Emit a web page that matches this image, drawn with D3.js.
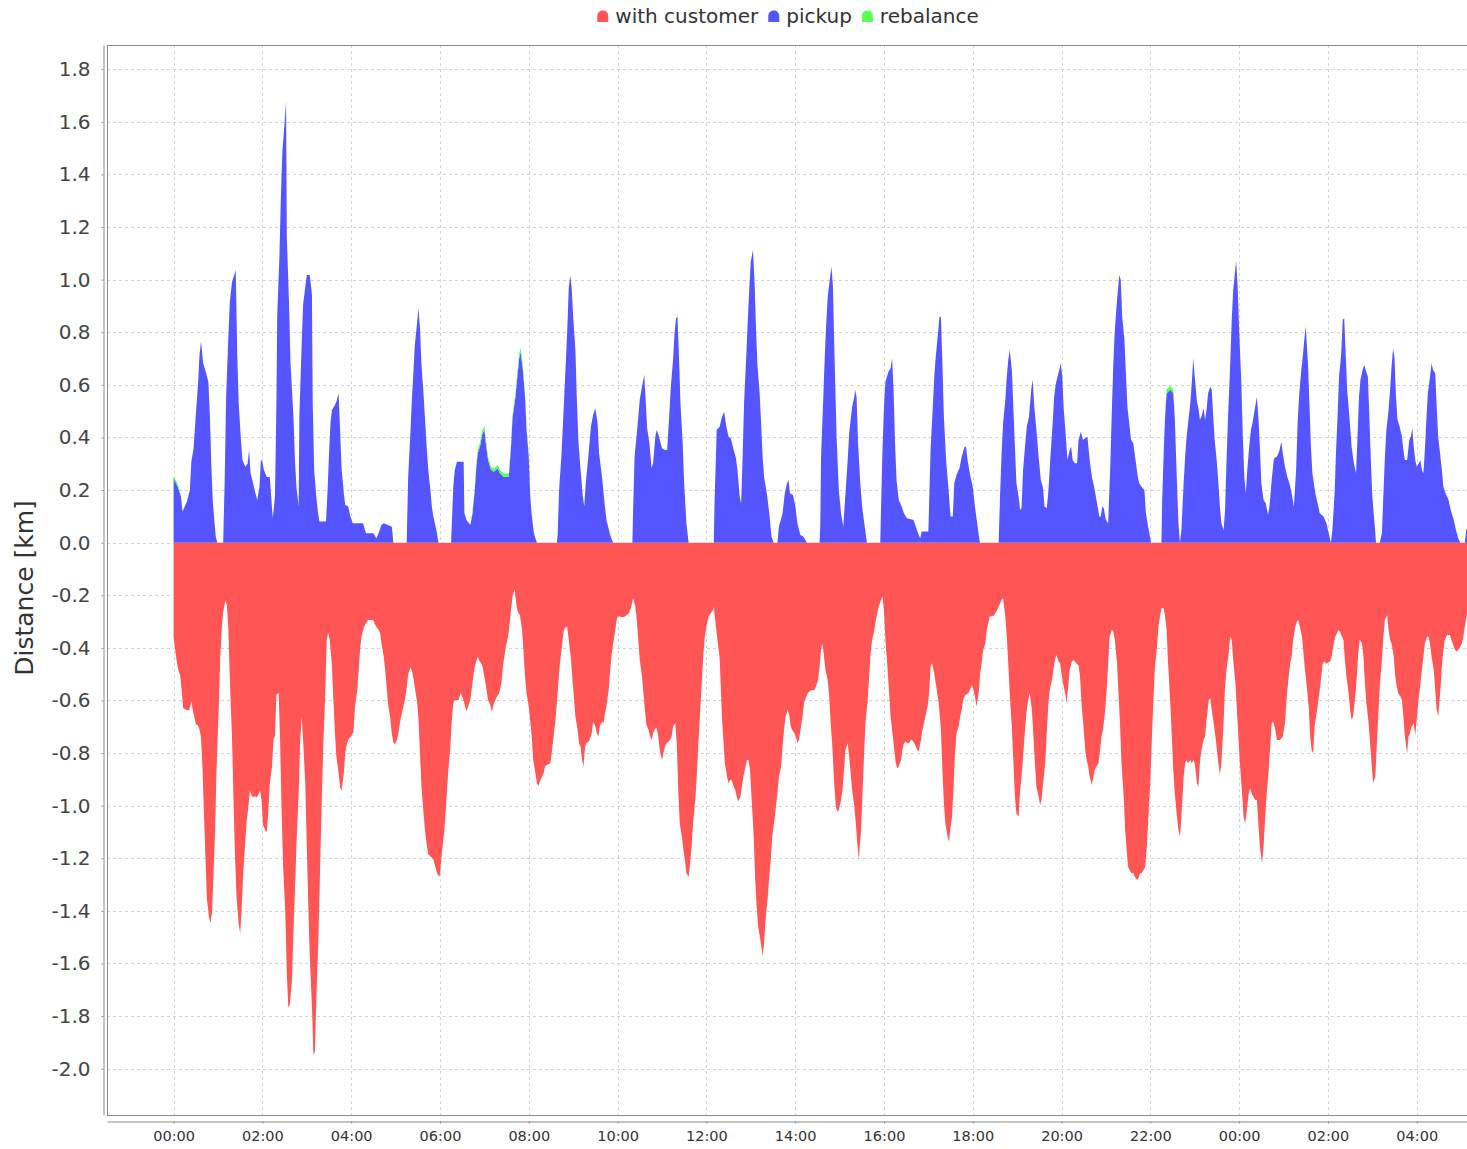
<!DOCTYPE html>
<html>
<head>
<meta charset="utf-8">
<script src="https://cdnjs.cloudflare.com/ajax/libs/d3/7.8.5/d3.min.js"></script>
<style>
  body { margin: 0; background: #fff; }
  text { font-family: "DejaVu Sans", sans-serif; }
</style>
</head>
<body>
<script>
// times are minutes after 00:00 of the first day, values are km
const seriesNames = ["with customer", "pickup", "rebalance"];
const seriesColors = ["#ff5555", "#5555ff", "#55ff55"];

// pickup (drawn above zero)
const pickup = [[0,.245],[6,.21],[10,.175],[12,.118],[18,.156],[22,.2],[24,.308],[27,.359],[30,.486],[33,.6],[35,.714],[37,.764],[40,.682],[44,.644],[47,.612],[49,.486],[51,.295],[53,.156],[55,.086],[57,.023],[59,0],
[67,0],[69,.232],[71,.555],[74,.783],[76,.916],[79,.992],[82,1.018],[84,1.037],[86,.72],[88,.53],[91,.39],[93,.314],[97,.289],[100,.3],[102,.352],[104,.264],[107,.232],[110,.194],[113,.162],[116,.21],[118,.314],[120,.308],[122,.276],[126,.25],[130,.25],[134,.093],[137,.175],
[139,.543],[140,.86],[143,1.087],[145,1.316],[147,1.487],[150,1.595],[152,1.677],[153,1.163],[156,.91],[158,.682],[162,.479],[164,.314],[166,.213],[169,.137],
[170,.486],[173,.745],[175,.904],[178,.973],[180,1.018],[184,1.018],[187,.942],[188,.536],[190,.276],[193,.169],[195,.118],[197,.08],[206,.08],
[208,.194],[210,.333],[212,.454],[214,.505],[217,.518],[220,.536],[223,.568],[225,.428],[227,.283],[230,.188],[232,.143],[236,.137],[239,.099],[242,.074],[256,.074],[260,.036],[270,.036],[274,.017],[277,.036],[281,.068],[284,.074],[295,.06],[297,0],
[315,0],[317,.25],[320,.416],[322,.543],[324,.644],[326,.752],[329,.834],[331,.891],[333,.814],[335,.676],[338,.555],[340,.46],[342,.365],[344,.283],[347,.2],[349,.137],[351,.099],[355,.05],[358,0],
[375,0],[376,.074],[378,.213],[380,.276],[383,.308],[392,.308],[393,.112],[396,.086],[401,.067],[404,.112],[407,.2],[409,.283],[411,.34],[414,.365],[417,.41],[420,.429],[422,.378],[425,.314],[429,.276],[433,.27],[438,.283],[441,.264],[446,.251],[453,.251],[456,.365],[458,.473],[462,.555],[465,.644],[467,.701],[469,.725],[472,.657],[475,.555],[477,.429],[480,.327],[482,.175],[484,.105],[487,.035],[491,0],
[518,0],[519,.03],[521,.2],[524,.327],[526,.441],[528,.562],[530,.682],[532,.809],[534,.967],[536,1.018],[538,.967],[540,.859],[543,.733],[545,.543],[547,.39],[550,.276],[553,.175],[555,.137],[557,.226],[560,.314],[562,.378],[564,.441],[567,.486],[570,.511],[573,.454],[575,.34],[579,.251],[582,.162],[585,.086],[590,.029],[594,0],
[620,0],[621,.124],[623,.327],[626,.416],[628,.479],[630,.543],[633,.593],[636,.638],[638,.543],[640,.435],[643,.378],[646,.283],[648,.302],[651,.403],[653,.429],[656,.403],[660,.359],[664,.352],[667,.352],[670,.492],[672,.593],[675,.695],[677,.796],[679,.853],[681,.859],[683,.707],[685,.53],[688,.378],[690,.226],[693,.074],[696,0],
[730,0],[731,.15],[734,.429],[738,.441],[741,.479],[744,.498],[747,.441],[750,.403],[753,.397],[757,.352],[760,.321],[762,.276],[765,.175],[767,.15],[769,.327],[771,.536],[774,.714],[776,.847],[778,.967],[780,1.069],[783,1.113],[785,1.0],[787,.822],[789,.676],[792,.568],[794,.454],[796,.327],[798,.251],[802,.181],[805,.112],[808,.023],[811,0],
[816,0],[818,.061],[820,.08],[823,.112],[826,.188],[829,.226],[831,.238],[833,.188],[837,.181],[840,.143],[843,.074],[847,.029],[851,.023],[856,0],
[873,0],[874,.074],[875,.327],[878,.549],[880,.707],[882,.834],[884,.935],[887,1.005],[889,1.05],[891,.98],[893,.733],[896,.403],[899,.2],[902,.112],[905,.061],[908,.188],[911,.314],[913,.416],[915,.467],[917,.517],[920,.555],[921,.581],[923,.555],[925,.378],[928,.226],[931,.124],[934,.061],[937,0],
[955,0],[956,.124],[958,.352],[960,.517],[962,.612],[966,.65],[969,.663],[971,.701],[973,.581],[975,.378],[977,.238],[980,.162],[984,.137],[987,.112],[991,.093],[1000,.086],[1003,.061],[1007,.029],[1009,.017],[1011,.042],[1020,.042],[1023,.352],[1026,.517],[1028,.631],[1030,.707],[1033,.796],[1035,.859],[1037,.857],[1039,.682],[1041,.479],[1044,.314],[1047,.213],[1050,.099],[1053,.099],[1055,.226],[1058,.257],[1062,.283],[1065,.327],[1069,.365],[1071,.365],[1073,.314],[1076,.264],[1080,.213],[1083,.137],[1086,.074],[1089,.01],[1090,0],
[1115,0],[1117,.188],[1119,.34],[1121,.454],[1124,.543],[1126,.631],[1128,.695],[1130,.733],[1133,.65],[1135,.505],[1137,.365],[1139,.226],[1142,.175],[1144,.124],[1146,.131],[1148,.276],[1151,.378],[1153,.441],[1156,.479],[1159,.581],[1161,.619],[1163,.524],[1166,.429],[1169,.327],[1172,.238],[1175,.207],[1177,.137],[1180,.131],[1182,.188],[1185,.327],[1188,.454],[1190,.555],[1192,.6],[1194,.625],[1197,.657],[1199,.682],[1201,.631],[1203,.505],[1206,.397],[1208,.314],[1211,.352],[1213,.365],[1215,.314],[1218,.302],[1221,.302],[1223,.39],[1226,.422],[1229,.39],[1232,.397],[1235,.403],[1238,.314],[1241,.251],[1244,.213],[1248,.15],[1251,.099],[1253,.099],[1255,.137],[1257,.131],[1260,.086],[1263,.074],[1266,.302],[1268,.505],[1270,.682],[1272,.809],[1275,.923],[1277,.986],[1278,1.018],[1280,.999],[1282,.859],[1285,.771],[1287,.644],[1289,.517],[1292,.441],[1294,.39],[1297,.378],[1300,.314],[1303,.251],[1305,.226],[1308,.213],[1312,.2],[1314,.112],[1317,.061],[1321,0],
[1335,0],[1336,.162],[1338,.34],[1340,.486],[1342,.568],[1347,.581],[1351,.568],[1353,.479],[1356,.226],[1358,.074],[1360,0],[1362,.048],[1365,.226],[1367,.327],[1369,.403],[1371,.454],[1374,.53],[1376,.606],[1378,.701],[1380,.631],[1383,.536],[1385,.511],[1387,.467],[1389,.479],[1392,.511],[1394,.467],[1396,.505],[1398,.568],[1401,.593],[1403,.581],[1405,.479],[1407,.39],[1410,.302],[1412,.226],[1414,.137],[1416,.074],[1419,.048],[1421,.124],[1423,.314],[1425,.479],[1428,.682],[1430,.847],[1432,.961],[1434,1.018],[1436,1.072],[1438,.974],[1440,.809],[1443,.606],[1445,.403],[1447,.251],[1449,.188],[1451,.276],[1454,.378],[1456,.429],[1458,.454],[1461,.505],[1464,.555],[1466,.479],[1468,.365],[1470,.226],[1473,.162],[1476,.15],[1479,.105],[1481,.137],[1484,.238],[1487,.321],[1491,.327],[1494,.346],[1497,.384],[1499,.34],[1502,.289],[1505,.251],[1508,.226],[1511,.188],[1514,.137],[1517,.276],[1519,.454],[1521,.555],[1524,.657],[1526,.707],[1528,.771],[1530,.822],[1533,.682],[1535,.53],[1537,.365],[1539,.264],[1543,.188],[1546,.15],[1549,.112],[1554,.099],[1558,.074],[1561,.036],[1564,0],[1566,.048],[1569,.188],[1571,.352],[1573,.479],[1575,.631],[1578,.72],[1580,.847],[1582,.853],[1584,.72],[1586,.581],[1589,.479],[1592,.365],[1595,.302],[1598,.264],[1600,.403],[1602,.555],[1604,.619],[1607,.657],[1609,.676],[1611,.657],[1614,.631],[1616,.479],[1618,.314],[1620,.175],[1623,.074],[1625,0],
[1630,0],[1633,.036],[1635,.188],[1637,.327],[1639,.429],[1642,.505],[1644,.581],[1646,.669],[1648,.739],[1650,.701],[1652,.555],[1654,.467],[1657,.441],[1660,.403],[1662,.352],[1664,.314],[1667,.314],[1670,.39],[1672,.403],[1674,.435],[1676,.365],[1678,.314],[1680,.289],[1683,.302],[1685,.314],[1687,.276],[1689,.264],[1691,.352],[1693,.467],[1695,.568],[1698,.631],[1700,.682],[1702,.657],[1705,.644],[1707,.517],[1709,.403],[1712,.327],[1714,.276],[1716,.213],[1719,.188],[1723,.162],[1726,.124],[1730,.086],[1733,.048],[1736,.017],[1739,0],[1745,0],[1747,.048],[1748,.054]];

// rebalance, stacked on top of pickup (only where it is not zero)
const rebalance = [[0,.01],[6,.01],[404,.01],[407,.012],[409,.012],[411,.012],[414,.015],[417,.015],[420,.015],[422,.012],[425,.012],[429,.012],[433,.012],[438,.012],[441,.012],[446,.012],[453,.012],[456,.012],[458,.012],[462,.015],[465,.015],[467,.015],[469,.015],[472,.015],[475,.012],[477,.01],[480,.01],[482,.01],[1340,.01],[1342,.015],[1347,.015],[1351,.015],[1353,.01]];

// with customer (distance, drawn below zero)
const withCustomer = [[0,.356],[3,.427],[6,.48],[9,.506],[11,.565],[13,.63],[18,.637],[21,.637],[24,.604],[26,.637],[28,.662],[30,.689],[33,.695],[35,.709],[37,.74],[39,.852],[41,1.028],[43,1.192],[45,1.354],[48,1.426],[50,1.446],[52,1.399],[54,1.256],[56,1.1],[58,.871],[61,.63],[63,.441],[65,.33],[67,.265],[70,.219],[72,.238],[74,.324],[76,.519],[79,.748],[81,.982],[83,1.192],[85,1.342],[88,1.452],[90,1.485],[92,1.393],[94,1.262],[97,1.133],[99,1.053],[101,1.008],[103,.943],[106,.963],[108,.969],[110,.963],[112,.969],[115,.956],[117,.943],[119,.982],[121,1.074],[124,1.094],[126,1.1],[128,1.021],[130,.918],[133,.852],[135,.748],[137,.734],[139,.578],[142,.572],[144,.76],[146,1.021],[148,1.23],[151,1.413],[153,1.635],[155,1.765],[157,1.759],[160,1.661],[162,1.478],[164,1.321],[166,1.152],[169,.956],[171,.76],[173,.662],[175,.748],[178,.918],[180,1.152],[182,1.374],[184,1.569],[187,1.765],[189,1.948],[191,1.935],[193,1.726],[196,1.478],[198,1.236],[200,1.008],[202,.8],[205,.565],[207,.369],[209,.343],[211,.369],[214,.467],[216,.604],[218,.721],[220,.813],[223,.877],[225,.93],[227,.943],[230,.877],[232,.8],[234,.767],[236,.748],[239,.74],[243,.721],[245,.63],[248,.565],[250,.494],[252,.408],[254,.356],[257,.324],[259,.31],[263,.294],[270,.294],[272,.31],[275,.324],[277,.33],[279,.343],[281,.382],[284,.434],[286,.486],[288,.552],[290,.617],[293,.67],[295,.728],[297,.76],[299,.767],[302,.748],[304,.721],[306,.682],[308,.656],[311,.617],[313,.592],[315,.552],[317,.5],[320,.474],[322,.486],[324,.513],[326,.552],[329,.604],[331,.67],[333,.8],[335,.93],[338,1.035],[340,1.1],[342,1.146],[344,1.185],[347,1.192],[351,1.204],[356,1.256],[359,1.27],
[360,1.263],[362,1.194],[365,1.118],[367,1.054],[369,.965],[371,.877],[374,.775],[376,.674],[378,.611],[380,.598],[385,.598],[388,.573],[391,.592],[394,.623],[396,.642],[398,.623],[401,.598],[403,.554],[405,.509],[407,.471],[411,.433],[414,.452],[417,.465],[420,.509],[423,.56],[425,.598],[428,.617],[430,.642],[433,.611],[437,.585],[440,.573],[443,.535],[445,.471],[447,.433],[449,.395],[452,.357],[454,.313],[456,.256],[458,.205],[461,.177],[463,.23],[465,.262],[468,.275],[471,.332],[473,.42],[475,.509],[477,.573],[480,.623],[482,.68],[484,.737],[486,.826],[489,.877],[491,.915],[493,.925],[495,.908],[498,.889],[500,.877],[502,.851],[504,.845],[509,.839],[511,.801],[513,.75],[516,.674],[518,.611],[520,.535],[522,.459],[525,.389],[527,.338],[529,.322],[532,.322],[534,.37],[537,.44],[539,.522],[541,.585],[543,.661],[546,.712],[548,.763],[550,.775],[552,.826],[554,.851],[556,.775],[558,.763],[561,.756],[563,.744],[565,.725],[567,.68],[570,.699],[572,.725],[574,.737],[576,.699],[579,.68],[581,.687],[583,.649],[585,.623],[588,.56],[590,.484],[592,.427],[594,.383],[597,.332],[599,.287],[601,.279],[606,.284],[610,.281],[615,.268],[618,.249],[621,.211],[624,.243],[626,.294],[628,.37],[630,.446],[633,.509],[635,.573],[637,.636],[639,.693],[642,.712],[644,.737],[646,.75],[648,.725],[651,.706],[653,.706],[655,.737],[657,.788],[660,.826],[662,.801],[664,.775],[666,.763],[669,.756],[671,.75],[673,.737],[675,.699],[678,.687],[680,.763],[682,.94],[684,1.067],[687,1.118],[689,1.168],[691,1.206],[693,1.257],[696,1.27],[698,1.219],[700,1.156],[702,1.067],[705,.978],[707,.89],[709,.775],[711,.674],[714,.522],[716,.42],[718,.357],[720,.319],[723,.281],[726,.268],[729,.256],[730,.243],[734,.345],[738,.44],[741,.661],[743,.75],[745,.839],[748,.89],[750,.915],[752,.902],[754,.902],[757,.927],[759,.94],[761,.965],[763,.984],[766,.965],[768,.927],[770,.89],[772,.864],[775,.826],[777,.826],[779,.864],[781,.965],[784,1.118],[786,1.282],[788,1.384],[790,1.46],[793,1.51],[795,1.549],[796,1.574],[798,1.523],[800,1.434],[803,1.346],[805,1.27],[807,1.206],[809,1.118],[812,1.054],[814,1.004],[816,.953],[818,.89],[821,.851],[823,.775],[825,.712],[827,.661],[830,.636],[832,.655],[834,.699],[836,.712],[839,.725],[841,.737],[843,.763],[845,.75],[848,.699],[850,.661],[852,.611],[854,.592],[857,.573],[859,.566],[862,.56],[866,.56],[868,.547],[871,.522],[873,.471],[875,.408],[877,.383],[879,.433],[881,.484],[884,.522],[886,.585],[888,.687],[890,.763],[893,.927],[895,1.004],[897,1.023],[899,1.016],[902,.978],[904,.94],[906,.864],[908,.788],[911,.763],[913,.813],[915,.877],[917,.94],[920,1.004],[922,1.067],[924,1.143],[926,1.206],[929,1.092],[931,.953],[933,.813],[935,.687],[938,.598],[940,.509],[942,.42],[944,.37],[947,.332],[949,.294],[951,.268],[953,.243],[956,.218],[958,.205],[960,.256],[962,.37],[965,.484],[967,.573],[969,.661],[971,.712],[974,.788],[976,.839],[978,.858],[980,.851],[983,.826],[985,.788],[987,.763],[989,.756],[992,.763],[994,.763],[996,.75],[998,.75],[1001,.763],[1003,.775],[1005,.788],[1007,.794],[1010,.75],[1012,.712],[1014,.687],[1016,.661],[1019,.623],[1021,.573],[1023,.471],[1025,.459],[1028,.497],[1030,.535],[1032,.573],[1034,.611],[1037,.712],[1039,.864],[1041,.991],[1043,1.067],[1046,1.118],[1048,1.137],[1049,1.105],[1052,1.042],[1054,.94],[1056,.801],[1058,.725],[1061,.699],[1063,.661],[1065,.636],[1067,.598],[1070,.579],[1074,.573],[1076,.56],[1079,.541],[1081,.56],[1083,.585],[1085,.623],[1088,.573],[1090,.497],[1092,.459],[1094,.408],[1097,.383],[1099,.332],[1101,.306],[1103,.281],[1108,.279],[1112,.262],[1116,.237],[1119,.218],[1121,.211],[1124,.281],[1126,.357],[1128,.459],[1130,.573],[1133,.712],[1135,.839],[1137,.965],[1139,1.029],[1142,1.042],[1144,.94],[1146,.89],[1148,.813],[1151,.699],[1153,.636],[1155,.598],[1157,.573],[1160,.636],[1162,.737],[1164,.839],[1166,.927],[1169,.965],[1171,.997],[1173,.978],[1175,.915],[1178,.839],[1180,.725],[1182,.623],[1184,.56],[1187,.522],[1189,.484],[1191,.446],[1193,.427],[1196,.452],[1198,.459],[1200,.497],[1202,.535],[1205,.573],[1207,.611],[1209,.547],[1211,.484],[1214,.452],[1216,.446],[1218,.452],[1220,.459],[1223,.465],[1225,.509],[1227,.611],[1230,.712],[1232,.788],[1234,.826],[1236,.851],[1238,.89],[1241,.921],[1243,.89],[1245,.864],[1247,.851],[1250,.839],[1252,.788],[1254,.737],[1256,.712],[1259,.636],[1261,.56],[1263,.459],[1265,.357],[1268,.332],[1270,.338],[1272,.37],[1275,.459],[1277,.573],[1279,.687],[1281,.839],[1284,.965],[1286,1.092],[1288,1.168],[1290,1.232],[1293,1.251],[1295,1.257],[1297,1.257],[1299,1.27],[1302,1.282],[1304,1.276],[1306,1.257],[1308,1.257],[1311,1.244],[1313,1.232],[1315,1.168],[1317,1.067],[1320,.902],[1322,.75],[1324,.611],[1326,.484],[1329,.395],[1331,.319],[1333,.281],[1335,.249],[1338,.249],[1340,.281],[1342,.332],[1344,.459],[1347,.611],[1349,.737],[1351,.864],[1353,.953],[1356,1.042],[1358,1.092],[1360,1.118],[1362,1.042],[1365,.89],[1367,.839],[1369,.826],[1371,.839],[1374,.826],[1376,.839],[1378,.826],[1380,.839],[1383,.915],[1385,.927],[1387,.839],[1389,.788],[1392,.75],[1394,.737],[1396,.674],[1399,.598],[1401,.592],[1403,.636],[1405,.674],[1408,.737],[1410,.788],[1412,.839],[1414,.883],[1416,.839],[1419,.687],[1421,.547],[1423,.484],[1426,.42],[1428,.357],[1430,.37],[1432,.446],[1435,.535],[1437,.636],[1439,.737],[1441,.839],[1444,.953],[1446,1.042],[1448,1.067],[1450,1.029],[1453,.953],[1455,.934],[1457,.953],[1459,.965],[1462,.978],[1464,.978],[1466,1.067],[1468,1.156],[1471,1.219],[1473,1.156],[1475,1.054],[1477,.965],[1480,.864],[1482,.775],[1484,.687],[1486,.68],[1489,.712],[1491,.75],[1495,.75],[1499,.737],[1502,.687],[1504,.598],[1507,.509],[1509,.459],[1511,.433],[1513,.37],[1516,.319],[1518,.3],[1520,.294],[1522,.319],[1525,.357],[1527,.42],[1529,.484],[1531,.535],[1534,.623],[1536,.737],[1538,.788],[1540,.801],[1542,.699],[1544,.661],[1546,.623],[1549,.56],[1551,.509],[1553,.459],[1555,.452],[1558,.459],[1563,.452],[1565,.433],[1567,.395],[1570,.357],[1572,.345],[1574,.332],[1576,.338],[1579,.357],[1581,.37],[1583,.446],[1585,.509],[1588,.573],[1590,.636],[1592,.674],[1594,.661],[1597,.585],[1599,.509],[1601,.42],[1603,.37],[1606,.383],[1608,.433],[1610,.535],[1612,.611],[1615,.687],[1617,.763],[1619,.839],[1621,.915],[1624,.89],[1626,.775],[1628,.661],[1630,.547],[1633,.446],[1635,.357],[1637,.294],[1640,.275],[1642,.332],[1644,.37],[1646,.383],[1649,.433],[1651,.509],[1653,.547],[1655,.573],[1658,.585],[1660,.598],[1662,.661],[1664,.737],[1667,.801],[1669,.737],[1671,.725],[1673,.699],[1676,.687],[1678,.731],[1680,.674],[1682,.611],[1685,.535],[1687,.484],[1689,.433],[1691,.383],[1694,.357],[1696,.357],[1698,.383],[1700,.433],[1703,.484],[1705,.56],[1707,.636],[1709,.661],[1712,.56],[1714,.471],[1716,.408],[1718,.37],[1721,.351],[1725,.351],[1727,.37],[1730,.395],[1732,.408],[1734,.414],[1736,.408],[1739,.395],[1741,.383],[1743,.357],[1745,.319],[1748,.268]];

const yTickValues = d3.range(-10, 10).map(i => i / 5);   // -2.0 ... 1.8

// layout
const W = 1467, H = 1149;
const plot = {left: 107, top: 45, right: 1470, bottom: 1115};

const day0 = Date.UTC(2017, 0, 1);
const toDate = m => new Date(day0 + m * 60000);

const x = d3.scaleUtc()
    .domain([toDate(-90), toDate(1752)])
    .range([plot.left, plot.right]);
const y = d3.scaleLinear()
    .domain([-2.176, 1.892])
    .range([plot.bottom, plot.top]);

const svg = d3.select("body").append("svg")
    .attr("width", W)
    .attr("height", H);

svg.append("defs").append("clipPath").attr("id", "clip")
  .append("rect")
    .attr("x", plot.left).attr("y", plot.top)
    .attr("width", plot.right - plot.left).attr("height", plot.bottom - plot.top);

svg.append("rect")
    .attr("x", plot.left).attr("y", plot.top)
    .attr("width", plot.right - plot.left).attr("height", plot.bottom - plot.top)
    .attr("fill", "#fff");

// grid
const xTicks = x.ticks(d3.utcHour.every(2));
const grid = svg.append("g")
    .attr("stroke", "#d4d4d4")
    .attr("stroke-width", 1)
    .attr("stroke-dasharray", "3,3");
grid.selectAll(".gx").data(xTicks).enter().append("line")
    .attr("x1", d => Math.round(x(d)) + 0.5).attr("x2", d => Math.round(x(d)) + 0.5)
    .attr("y1", plot.top).attr("y2", plot.bottom);
grid.selectAll(".gy").data(yTickValues).enter().append("line")
    .attr("y1", d => Math.round(y(d)) + 0.5).attr("y2", d => Math.round(y(d)) + 0.5)
    .attr("x1", plot.left).attr("x2", plot.right);

// series
const areas = svg.append("g").attr("clip-path", "url(#clip)");

const customerArea = d3.area()
    .x(d => x(toDate(d[0])))
    .y0(y(0))
    .y1(d => y(-d[1]));
areas.append("path")
    .datum(withCustomer)
    .attr("fill", seriesColors[0])
    .attr("d", customerArea);

const rebMap = new Map(rebalance);
const rows = pickup.map(d => ({t: d[0], pickup: d[1], rebalance: rebMap.get(d[0]) || 0}));
const stacked = d3.stack().keys(["pickup", "rebalance"])(rows);

const stackArea = d3.area()
    .x(d => x(toDate(d.data.t)))
    .y0(d => y(d[0]))
    .y1(d => y(d[1]));

areas.selectAll(".layer")
    .data(stacked)
    .enter().append("path")
    .attr("fill", (d, i) => seriesColors[i + 1])
    .attr("d", stackArea);

// plot border
svg.append("rect")
    .attr("x", plot.left + 0.5).attr("y", plot.top + 0.5)
    .attr("width", plot.right - plot.left).attr("height", plot.bottom - plot.top)
    .attr("fill", "none")
    .attr("stroke", "#8a8a8a");

// axes
const yAxis = d3.axisLeft(y)
    .tickValues(yTickValues)
    .tickFormat(d => d.toFixed(1))
    .tickSize(2)
    .tickSizeOuter(0)
    .tickPadding(11);
const gy = svg.append("g")
    .attr("transform", "translate(103.5,0)")
    .call(yAxis);
gy.select(".domain").attr("stroke", "#8a8a8a");
gy.selectAll(".tick line").attr("stroke", "#8a8a8a");
gy.selectAll(".tick text")
    .attr("font-family", "DejaVu Sans, sans-serif")
    .attr("font-size", 20)
    .attr("fill", "#444");

const xAxis = d3.axisBottom(x)
    .ticks(d3.utcHour.every(2))
    .tickFormat(d3.utcFormat("%H:%M"))
    .tickSize(2)
    .tickSizeOuter(0)
    .tickPadding(7);
const gx = svg.append("g")
    .attr("transform", "translate(0,1121.5)")
    .call(xAxis);
gx.select(".domain").attr("stroke", "#8a8a8a");
gx.selectAll(".tick line").attr("stroke", "#8a8a8a");
gx.selectAll(".tick text")
    .attr("font-family", "DejaVu Sans, sans-serif")
    .attr("font-size", 14.5)
    .attr("fill", "#333");

// axis title
svg.append("text")
    .attr("transform", "translate(33,588) rotate(-90)")
    .attr("text-anchor", "middle")
    .attr("font-size", 25)
    .attr("fill", "#333")
    .text("Distance [km]");

// legend
const legend = svg.append("g");
let lx = 0;
seriesNames.forEach((name, i) => {
    const item = legend.append("g").attr("transform", "translate(" + lx + ",0)");
    item.append("path")
        .attr("d", "M0,6 L0,0 C0,-7.5 11,-7.5 11,0 L11,6 Z")
        .attr("fill", seriesColors[i]);
    const t = item.append("text")
        .attr("x", 18)
        .attr("y", 7)
        .attr("font-size", 20)
        .attr("fill", "#333")
        .text(name);
    lx += 18 + t.node().getComputedTextLength() + 10;
});
const legendWidth = lx - 10;
legend.attr("transform", "translate(" + (788 - legendWidth / 2) + ",16)");
</script>
</body>
</html>
